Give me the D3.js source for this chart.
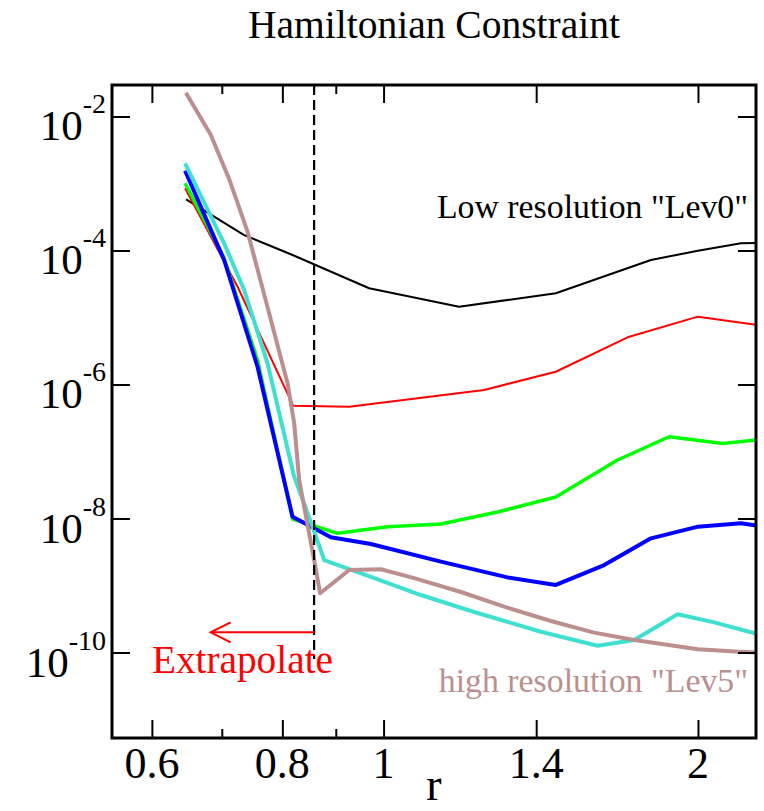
<!DOCTYPE html>
<html>
<head>
<meta charset="utf-8">
<script src="https://cdn.jsdelivr.net/npm/d3@7"></script>
<style>
  html, body { margin: 0; padding: 0; background: #fff; }
  svg { display: block; }
  text { font-family: "Liberation Serif", "Times New Roman", serif; }
</style>
</head>
<body>
<svg id="chart" width="764" height="811"></svg>
<script>
// ---- data ----
const title = "Hamiltonian Constraint";
const xLabel = "r";
const xTickValues = [0.6, 0.8, 1, 1.4, 2];
const xMinorTickValues = [0.7, 0.9];
const yTickExponents = [-2, -4, -6, -8, -10];

const rLev0 = [0.647, 0.7354, 0.8182, 0.9687, 1.181, 1.462, 1.803, 2.0, 2.199, 2.28];
const hLev0 = [5.81e-4, 1.70e-4, 8.57e-5, 2.73e-5, 1.45e-5, 2.30e-5, 7.21e-5, 9.93e-5, 1.28e-4, 1.29e-4];

const rLev1 = [0.6456, 0.7248, 0.8193, 0.927, 1.248, 1.462, 1.7126, 2.0, 2.28];
const hLev1 = [8.48e-4, 2.88e-5, 4.83e-7, 4.66e-7, 8.28e-7, 1.55e-6, 5.06e-6, 1.03e-5, 7.73e-6];

const rLev2 = [0.6456, 0.7036, 0.7574, 0.8182, 0.9036, 1.0089, 1.1347, 1.2858, 1.462, 1.675, 1.877, 2.112, 2.28];
const hLev2 = [1.01e-3, 7.73e-5, 2.32e-6, 9.84e-9, 6.01e-9, 7.55e-9, 8.28e-9, 1.25e-8, 2.09e-8, 7.46e-8, 1.66e-7, 1.32e-7, 1.49e-7];

const rLev3 = [0.6456, 0.7036, 0.7574, 0.8182, 0.8903, 0.9724, 1.1347, 1.3144, 1.462, 1.6265, 1.803, 2.0, 2.199, 2.28];
const hLev3 = [1.55e-3, 7.21e-5, 1.84e-6, 1.06e-8, 5.24e-9, 4.16e-9, 2.27e-9, 1.32e-9, 1.02e-9, 2.02e-9, 5.06e-9, 7.55e-9, 8.48e-9, 7.81e-9];

const rLev4 = [0.6456, 0.7036, 0.7354, 0.7743, 0.8211, 0.855, 0.8772, 0.9724, 1.0857, 1.2123, 1.4146, 1.603, 1.7378, 1.912, 2.073, 2.28];
const hLev4 = [2.00e-3, 1.28e-4, 2.57e-5, 2.07e-6, 4.21e-8, 7.55e-9, 2.40e-9, 1.34e-9, 7.21e-10, 4.16e-10, 2.04e-10, 1.26e-10, 1.54e-10, 3.72e-10, 2.82e-10, 1.89e-10];

const rLev5 = [0.6467, 0.6833, 0.7114, 0.7409, 0.777, 0.8092, 0.8211, 0.8302, 0.8457, 0.8581, 0.8695, 0.927, 0.994, 1.0698, 1.186, 1.3046, 1.446, 1.591, 1.7378, 2.0, 2.1906, 2.28];
const hLev5 = [2.26e-2, 5.30e-3, 1.17e-3, 1.91e-4, 1.16e-5, 1.04e-6, 2.66e-7, 3.76e-8, 8.0e-9, 2.40e-9, 7.65e-10, 1.70e-9, 1.75e-9, 1.29e-9, 8.0e-10, 4.83e-10, 2.95e-10, 1.98e-10, 1.54e-10, 1.12e-10, 1.03e-10, 1.0e-10];

const seriesNames = ["Lev0", "Lev1", "Lev2", "Lev3", "Lev4", "Lev5"];
const seriesR = [rLev0, rLev1, rLev2, rLev3, rLev4, rLev5];
const seriesH = [hLev0, hLev1, hLev2, hLev3, hLev4, hLev5];
const seriesColors = ["#000000", "#ff0000", "#00ff00", "#0000ff", "#40e0d0", "#bc8f8f"];
const seriesWidths = [2, 2, 3.5, 4, 4, 4];

const cutoffR = 0.858;          // dashed vertical line
const cutoffBottom = 8e-11;
const arrowFromR = 0.858, arrowToR = 0.683, arrowH = 2.0e-10;

const legendLow = "Low resolution \"Lev0\"";
const legendHigh = "high resolution \"Lev5\"";
const extrapolateLabel = "Extrapolate";

// ---- layout ----
const FONT = "'Liberation Serif', 'Times New Roman', serif";
const frame = { left: 112, right: 756, top: 85, bottom: 738 };
const svg = d3.select("#chart");

const x = d3.scaleLog().domain([0.5495, 2.273]).range([frame.left, frame.right]);
const y = d3.scaleLog().domain([Math.pow(10, -11.276), Math.pow(10, -1.530)]).range([frame.bottom, frame.top]);

// clip
svg.append("defs").append("clipPath").attr("id", "plotclip")
  .append("rect")
  .attr("x", frame.left).attr("y", frame.top)
  .attr("width", frame.right - frame.left).attr("height", frame.bottom - frame.top);

// title
svg.append("text")
  .attr("x", (frame.left + frame.right) / 2).attr("y", 38)
  .attr("text-anchor", "middle").attr("font-family", FONT).attr("font-size", 39.5).attr("fill", "#000")
  .text(title);

// lines
const plot = svg.append("g").attr("clip-path", "url(#plotclip)");
const line = d3.line().x(d => x(d[0])).y(d => y(d[1]));

seriesNames.forEach((name, i) => {
  const pts = seriesR[i].map((r, j) => [r, seriesH[i][j]]);
  plot.append("path")
    .datum(pts)
    .attr("class", "series " + name)
    .attr("fill", "none")
    .attr("stroke", seriesColors[i])
    .attr("stroke-width", seriesWidths[i])
    .attr("stroke-linejoin", "round")
    .attr("d", line);
});

// dashed cutoff line
plot.append("line")
  .attr("x1", x(cutoffR)).attr("x2", x(cutoffR))
  .attr("y1", frame.top).attr("y2", y(cutoffBottom))
  .attr("stroke", "#000").attr("stroke-width", 2.2)
  .attr("stroke-dasharray", "10,5");

// extrapolate arrow
const ax1 = x(arrowFromR), ax2 = x(arrowToR), ay = y(arrowH);
svg.append("line")
  .attr("x1", ax1).attr("x2", ax2).attr("y1", ay).attr("y2", ay)
  .attr("stroke", "#ff0000").attr("stroke-width", 2);
svg.append("path")
  .attr("d", `M${ax2 + 20},${ay - 10}L${ax2},${ay}L${ax2 + 20},${ay + 10}`)
  .attr("fill", "none").attr("stroke", "#ff0000").attr("stroke-width", 2);

svg.append("text")
  .attr("x", x(0.6)).attr("y", 673)
  .attr("font-family", FONT).attr("font-size", 39.3).attr("fill", "#ff0000")
  .text(extrapolateLabel);

// legend texts
svg.append("text")
  .attr("x", 748).attr("y", 218).attr("text-anchor", "end")
  .attr("font-family", FONT).attr("font-size", 33.8).attr("fill", "#000")
  .text(legendLow);
svg.append("text")
  .attr("x", 748).attr("y", 692).attr("text-anchor", "end")
  .attr("font-family", FONT).attr("font-size", 33.8).attr("fill", "#bc8f8f")
  .text(legendHigh);

// axes (ticks drawn inward on all sides)
const tickMajor = 18, tickMinor = 9;
const xAxisBottom = d3.axisTop(x).tickValues(xTickValues).tickSize(tickMajor).tickFormat("");
const xAxisBottomMinor = d3.axisTop(x).tickValues(xMinorTickValues).tickSize(tickMinor).tickFormat("");
const xAxisTop = d3.axisBottom(x).tickValues(xTickValues).tickSize(tickMajor).tickFormat("");
const xAxisTopMinor = d3.axisBottom(x).tickValues(xMinorTickValues).tickSize(tickMinor).tickFormat("");
const yVals = yTickExponents.map(e => Math.pow(10, e));
const yAxisLeft = d3.axisRight(y).tickValues(yVals).tickSize(tickMajor).tickFormat("");
const yAxisRight = d3.axisLeft(y).tickValues(yVals).tickSize(tickMajor).tickFormat("");

function styleAxis(g) {
  g.select(".domain").remove();
  g.selectAll(".tick line").attr("stroke", "#000").attr("stroke-width", 2);
}
svg.append("g").attr("transform", `translate(0,${frame.bottom})`).call(xAxisBottom).call(styleAxis);
svg.append("g").attr("transform", `translate(0,${frame.bottom})`).call(xAxisBottomMinor).call(styleAxis);
svg.append("g").attr("transform", `translate(0,${frame.top})`).call(xAxisTop).call(styleAxis);
svg.append("g").attr("transform", `translate(0,${frame.top})`).call(xAxisTopMinor).call(styleAxis);
svg.append("g").attr("transform", `translate(${frame.left},0)`).call(yAxisLeft).call(styleAxis);
svg.append("g").attr("transform", `translate(${frame.right},0)`).call(yAxisRight).call(styleAxis);

// frame
svg.append("rect")
  .attr("x", frame.left).attr("y", frame.top)
  .attr("width", frame.right - frame.left).attr("height", frame.bottom - frame.top)
  .attr("fill", "none").attr("stroke", "#000").attr("stroke-width", 3);

// x tick labels
svg.append("g").selectAll("text").data(xTickValues).join("text")
  .attr("x", d => x(d)).attr("y", 778)
  .attr("text-anchor", "middle").attr("font-family", FONT).attr("font-size", 44).attr("fill", "#000")
  .text(d => String(d));

// y tick labels 10^e
const yl = svg.append("g").selectAll("text").data(yTickExponents).join("text")
  .attr("x", 106).attr("y", e => y(Math.pow(10, e)) + 24)
  .attr("text-anchor", "end").attr("font-family", FONT).attr("font-size", 43).attr("fill", "#000");
yl.append("tspan").text("10");
yl.append("tspan").attr("font-size", 28).attr("dy", -27).text(e => String(e));

// x axis label
svg.append("text")
  .attr("x", (frame.left + frame.right) / 2).attr("y", 800)
  .attr("text-anchor", "middle").attr("font-family", FONT).attr("font-size", 46).attr("fill", "#000")
  .text(xLabel);
</script>
</body>
</html>
